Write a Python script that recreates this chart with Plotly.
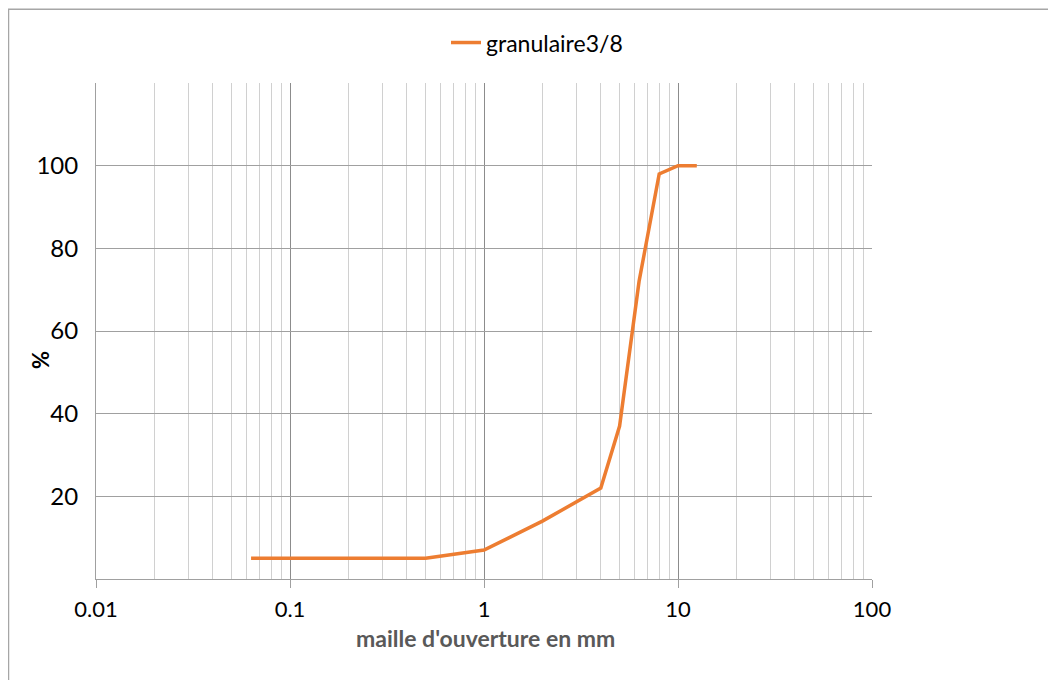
import plotly.graph_objects as go

# Data
sieve_mm = [0.063, 0.5, 1, 2, 4, 5, 6.3, 8, 10, 12.5]
passing_pct = [5, 5, 7, 14, 22, 37, 72, 98, 100, 100]
series_name = "granulaire3/8"
x_tickvals = [0.01, 0.1, 1, 10, 100]
x_ticktext = ["0.01", "0.1", "1", "10", "100"]
y_tickvals = [0, 20, 40, 60, 80, 100, 120]
y_ticktext = ["", "20", "40", "60", "80", "100", ""]
x_title = "maille d'ouverture en mm"
y_title = "%"

FONT = "Lato"

fig = go.Figure()
fig.add_trace(go.Scatter(
    x=sieve_mm, y=passing_pct, mode="lines", name=series_name,
    line=dict(color="#ED7D31", width=3.5),
))

# page body adds an 8px offset; targets below are in screen pixels
OFF = 8
W, H = 1056, 680
L = 96 - OFF
T = 82.5 - OFF
R = W - (872 - OFF)
B = H - (579.5 - OFF)
pw = W - L - R
ph = H - T - B

def px_x(px):
    return (px - OFF - L) / pw

def px_y(py):
    return (H - B - (py - OFF)) / ph

fig.update_layout(
    width=W, height=H,
    margin=dict(l=L, r=R, t=T, b=B),
    paper_bgcolor="white", plot_bgcolor="white",
    font=dict(family=FONT, color="black", size=20),
    showlegend=True,
    legend=dict(
        orientation="h", x=px_x(537), xanchor="center",
        y=px_y(42), yanchor="middle",
        font=dict(family=FONT, size=23, color="black"),
        bgcolor="rgba(0,0,0,0)",
    ),
    xaxis=dict(
        type="log", range=[-2, 2],
        tickvals=x_tickvals, ticktext=x_ticktext,
        tickfont=dict(family=FONT, size=22, color="black"),
        ticks="outside", ticklen=8, tickcolor="#a0a0a0", tickwidth=1,
        showline=True, linecolor="#a0a0a0", linewidth=1,
        showgrid=True, gridcolor="#8c8c8c", gridwidth=1,
        minor=dict(dtick="D1", showgrid=True, gridcolor="#d0d0d0", gridwidth=1, ticks=""),
        ticklabelstandoff=3,
        zeroline=False,
    ),
    yaxis=dict(
        range=[0, 120],
        tickvals=y_tickvals, ticktext=y_ticktext,
        tickfont=dict(family=FONT, size=24, color="black"),
        ticks="",
        showline=True, linecolor="#a0a0a0", linewidth=1,
        showgrid=True, gridcolor="#a0a0a0", gridwidth=1,
        ticklabelstandoff=12,
        zeroline=False,
    ),
    annotations=[
        dict(text="<b>" + x_title + "</b>", xref="paper", yref="paper",
             x=px_x(485), y=px_y(639), xanchor="center", yanchor="middle",
             showarrow=False, font=dict(family=FONT, size=23, color="#595959")),
        dict(text="<b>" + y_title + "</b>", xref="paper", yref="paper",
             x=px_x(41), y=px_y(360), xanchor="center", yanchor="middle",
             textangle=-90, showarrow=False,
             font=dict(family=FONT, size=22, color="black")),
    ],
    shapes=[dict(
        type="rect", xref="paper", yref="paper",
        x0=px_x(8.5), x1=px_x(1075), y0=px_y(700), y1=px_y(8.5),
        line=dict(color="#a6a6a6", width=1.5), fillcolor="rgba(0,0,0,0)",
        layer="below",
    )],
)

fig.write_html("out.html")
